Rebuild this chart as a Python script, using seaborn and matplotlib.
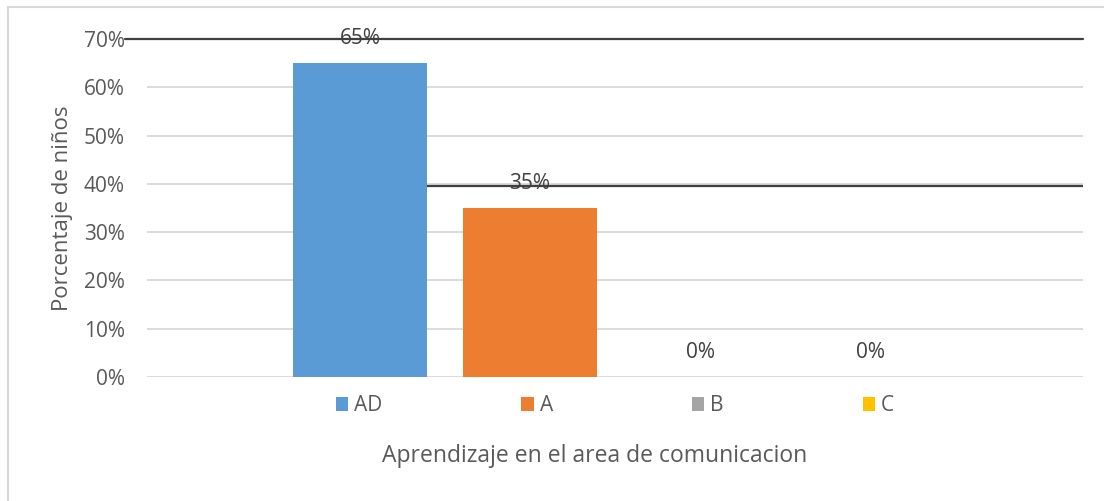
import pandas as pd
import matplotlib.pyplot as plt
import matplotlib.patches as mpatches
import seaborn as sns
from matplotlib.ticker import FuncFormatter

# data
niveles = ['AD', 'A', 'B', 'C']
porcentajes = [65, 35, 0, 0]
colores = ['#5B9BD5', '#ED7D31', '#A5A5A5', '#FFC000']
y_ticks = [0, 10, 20, 30, 40, 50, 60, 70]
linea_superior = 70
linea_media = 39.5

df = pd.DataFrame({'area': [''] * len(niveles), 'nivel': niveles, 'pct': porcentajes})

sns.set_theme(style='white')
plt.rcParams['font.family'] = ['Open Sans', 'DejaVu Sans']
texto = '#595959'

fig = plt.figure(figsize=(11.04, 5.01), dpi=100)
ax = fig.add_axes([147 / 1104, 1 - 377 / 501, 936 / 1104, 338 / 501])

sns.barplot(data=df, x='area', y='pct', hue='nivel', palette=colores, saturation=1,
            width=0.7265, gap=0.21, linewidth=0, ax=ax, zorder=3, legend=True)

ax.set_xlim(-0.5, 0.5)
ax.set_ylim(0, 70)
ax.set_yticks(y_ticks)
ax.yaxis.set_major_formatter(FuncFormatter(lambda v, p: f'{v:.0f}%'))
ax.grid(axis='y', color='#D9D9D9', linewidth=1.3, zorder=0)
ax.grid(axis='x', visible=False)
for s in ax.spines.values():
    s.set_visible(False)
ax.tick_params(axis='y', length=0, pad=16, labelsize=15, labelcolor=texto)
ax.tick_params(axis='x', length=0, labelbottom=False)

for cont in ax.containers:
    ax.bar_label(cont, labels=[f'{v:.0f}%' for v in cont.datavalues],
                 padding=10, fontsize=15, color='#404040')

ax.set_ylabel('Porcentaje de niños', fontsize=16, color=texto, labelpad=8)
ax.set_xlabel('Aprendizaje en el area de comunicacion', fontsize=16.5, color=texto,
              labelpad=48, x=0.4786)

# dark lines over the plot area
ax.plot([-0.0235, 1], [linea_superior, linea_superior], color='#3F3F3F', lw=1.6,
        transform=ax.get_yaxis_transform(), clip_on=False, zorder=5)
ad_bar = ax.containers[0].patches[0]
x0 = ad_bar.get_x() + ad_bar.get_width()
ax.plot([x0, 0.5], [linea_media, linea_media], color='#3F3F3F', lw=1.6, zorder=2)

leg = ax.legend(loc='center', bbox_to_anchor=(0.5, -0.085), ncol=4, frameon=False,
                fontsize=15, handlelength=0.6, handleheight=0.6, handletextpad=0.3,
                columnspacing=6.65)
for t in leg.get_texts():
    t.set_color(texto)

# chart border
fig.patches.append(mpatches.Rectangle((8 / 1104, -0.1), 1.2, 1 - 7 / 501 + 0.1,
                                      transform=fig.transFigure, fill=False,
                                      edgecolor='#D9D9D9', linewidth=1.5))

fig.savefig('out.png', dpi=100)
